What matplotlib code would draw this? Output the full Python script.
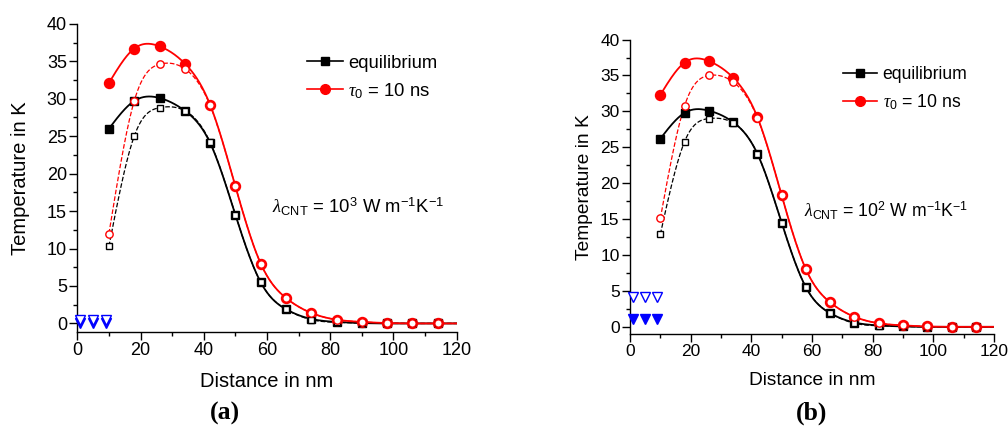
import matplotlib
matplotlib.use("Agg")
import matplotlib.pyplot as plt
import numpy as np
from matplotlib.ticker import MultipleLocator

plt.rcParams['font.family'] = ['Liberation Sans', 'DejaVu Sans']
plt.rcParams['mathtext.fontset'] = 'custom'
plt.rcParams['mathtext.rm'] = 'Liberation Sans'
plt.rcParams['mathtext.it'] = 'Liberation Serif:italic'

# distance along the tube (nm)
dist = [10, 18, 26, 34, 42, 50, 58, 66, 74, 82, 90, 98, 106, 114]

# panel (a): lambda_CNT = 1e3
a_eq_solid = [26.0, 29.7, 30.1, 28.4, 24.1, 14.5, 5.5, 1.9, 0.6, 0.2, 0.05, 0.0, 0.0, 0.0]
a_eq_dash = [10.3, 25.0, 28.8, 28.4, 24.2, 14.5, 5.5, 1.9, 0.5, 0.15, 0.05, 0.0, 0.0, 0.0]
a_tau_solid = [32.1, 36.7, 37.0, 34.7, 29.2, 18.3, 8.0, 3.4, 1.4, 0.5, 0.2, 0.05, 0.0, 0.0]
a_tau_dash = [12.0, 29.7, 34.6, 34.0, 29.1, 18.3, 8.0, 3.4, 1.4, 0.5, 0.2, 0.05, 0.0, 0.0]
a_tri_x = [1, 5, 9]
a_tri_filled = [0.0, 0.0, 0.0]
a_tri_open = [0.4, 0.4, 0.4]

# panel (b): lambda_CNT = 1e2
b_eq_solid = [26.2, 29.8, 30.1, 28.5, 24.1, 14.5, 5.5, 1.9, 0.6, 0.2, 0.05, 0.0, 0.0, 0.0]
b_eq_dash = [12.9, 25.8, 29.0, 28.4, 24.1, 14.5, 5.5, 1.9, 0.5, 0.15, 0.05, 0.0, 0.0, 0.0]
b_tau_solid = [32.3, 36.8, 37.0, 34.7, 29.2, 18.3, 8.0, 3.4, 1.4, 0.5, 0.2, 0.05, 0.0, 0.0]
b_tau_dash = [15.1, 30.8, 35.0, 34.1, 29.1, 18.3, 8.0, 3.4, 1.4, 0.5, 0.2, 0.05, 0.0, 0.0]
b_tri_x = [1, 5, 9]
b_tri_filled = [1.1, 1.1, 1.1]
b_tri_open = [4.1, 4.1, 4.1]


def spline(x, y, n=400):
    # natural cubic spline, only used to draw the smooth connecting line
    x = np.asarray(x, float)
    y = np.asarray(y, float)
    h = np.diff(x)
    m = len(x)
    A = np.zeros((m, m))
    r = np.zeros(m)
    A[0, 0] = A[-1, -1] = 1
    for i in range(1, m - 1):
        A[i, i - 1] = h[i - 1]
        A[i, i] = 2 * (h[i - 1] + h[i])
        A[i, i + 1] = h[i]
        r[i] = 3 * ((y[i + 1] - y[i]) / h[i] - (y[i] - y[i - 1]) / h[i - 1])
    c = np.linalg.solve(A, r)
    xs = np.linspace(x[0], x[-1], n)
    k = np.clip(np.searchsorted(x, xs) - 1, 0, m - 2)
    dx = xs - x[k]
    b = (y[k + 1] - y[k]) / h[k] - h[k] * (2 * c[k] + c[k + 1]) / 3
    d = (c[k + 1] - c[k]) / (3 * h[k])
    return xs, y[k] + b * dx + c[k] * dx ** 2 + d * dx ** 3


def panel(ax, eq_s, eq_d, tau_s, tau_d, tri_x, tri_f, tri_o, ylo, lam_txt, lam_xy, leg_xy,
          fs_tick, fs_lab, fs_leg, ypad):
    xe = dist + [122]
    for vals, col, ls, lw in [(eq_d, 'black', '--', 0.9), (tau_d, 'red', '--', 0.9),
                              (eq_s, 'black', '-', 1.3), (tau_s, 'red', '-', 1.3)]:
        xs, ys = spline(xe, vals + [0.0])
        ax.plot(xs, ys, color=col, ls=ls, lw=lw, zorder=2)

    ax.plot(dist, eq_s, 's', color='black', ms=6.3, zorder=3)
    ax.plot(dist, tau_s, 'o', color='red', ms=7.2, zorder=3)
    ax.plot(dist, eq_d, 's', mfc='white', mec='black', mew=1.0, ms=4.8, zorder=4)
    ax.plot(dist, tau_d, 'o', mfc='white', mec='red', mew=1.0, ms=5.3, zorder=4)

    ax.plot(tri_x, tri_f, 'v', color='blue', ms=6.5, zorder=4, clip_on=False)
    ax.plot(tri_x, tri_o, 'v', mfc='white', mec='blue', mew=1.0, ms=6.5, zorder=5, clip_on=False)

    # legend handles: line + marker
    l1, = ax.plot([], [], '-s', color='black', ms=5.5, lw=1.2)
    l2, = ax.plot([], [], '-o', color='red', ms=7.0, lw=1.2)
    ax.legend([l1, l2], ['equilibrium', r'$\tau_0$ = 10 ns'], loc='upper left',
              bbox_to_anchor=leg_xy, frameon=False, fontsize=fs_leg, handlelength=1.95,
              handletextpad=0.3, labelspacing=0.5, borderpad=0, borderaxespad=0)

    ax.text(lam_xy[0], lam_xy[1], lam_txt, fontsize=fs_leg, va='center', ha='left')

    ax.set_xlim(0, 120)
    ax.set_ylim(ylo, 40)
    ax.xaxis.set_major_locator(MultipleLocator(20))
    ax.xaxis.set_minor_locator(MultipleLocator(10))
    ax.yaxis.set_major_locator(MultipleLocator(5))
    ax.yaxis.set_minor_locator(MultipleLocator(2.5))
    ax.spines['top'].set_visible(False)
    ax.spines['right'].set_visible(False)
    for s in ('left', 'bottom'):
        ax.spines[s].set_linewidth(1.0)
    ax.tick_params(which='major', direction='out', length=5.5, width=1.0, labelsize=fs_tick, pad=2)
    ax.tick_params(which='minor', direction='out', length=3, width=1.0)
    ax.set_xlabel('Distance in nm', fontsize=fs_lab, labelpad=9)
    ax.set_ylabel('Temperature in K', fontsize=fs_lab, labelpad=ypad)


fig = plt.figure(figsize=(10.08, 4.33), dpi=100)
ax1 = fig.add_axes([0.0767, 0.234, 0.3764, 0.711])
ax2 = fig.add_axes([0.625, 0.2286, 0.3611, 0.680])

panel(ax1, a_eq_solid, a_eq_dash, a_tau_solid, a_tau_dash, a_tri_x, a_tri_filled, a_tri_open,
      -1.1, r'$\lambda_{\rm CNT}$ = 10$^{3}$ W m$^{-1}$K$^{-1}$', (61.5, 15.6), (0.605, 0.90),
      13, 14.5, 13.3, 12)
panel(ax2, b_eq_solid, b_eq_dash, b_tau_solid, b_tau_dash, b_tri_x, b_tri_filled, b_tri_open,
      -1.0, r'$\lambda_{\rm CNT}$ = 10$^{2}$ W m$^{-1}$K$^{-1}$', (57.5, 16.2), (0.585, 0.91),
      12.5, 13.8, 12.7, 5)

fig.text(225 / 1008, 1 - 413 / 433, '(a)', family='Liberation Serif', weight='bold',
         fontsize=18.5, ha='center', va='center')
fig.text(812 / 1008, 1 - 413 / 433, '(b)', family='Liberation Serif', weight='bold',
         fontsize=18.5, ha='center', va='center')

fig.savefig('out.png', dpi=100)
